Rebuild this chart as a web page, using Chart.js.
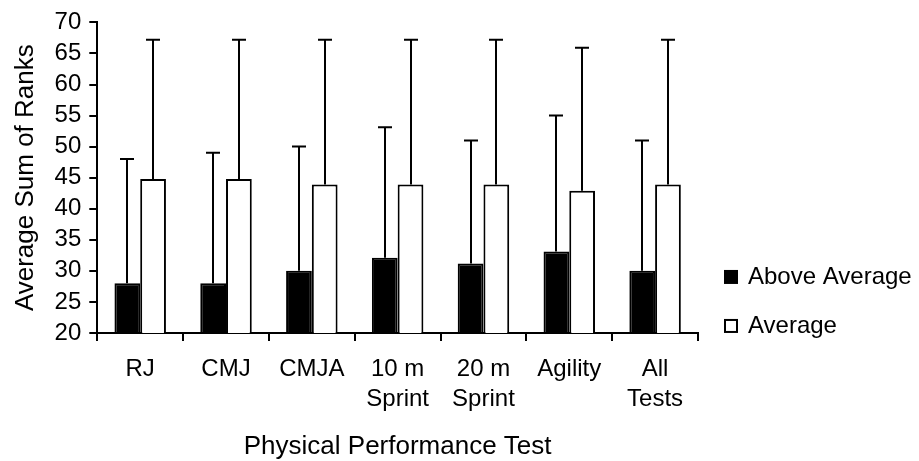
<!DOCTYPE html>
<html lang="en">
<head>
<meta charset="UTF-8">
<title>Average Sum of Ranks</title>
<script src="https://cdn.jsdelivr.net/npm/chart.js@4.4.0/dist/chart.umd.min.js"></script>
<style>
  html, body { margin: 0; padding: 0; background: #fff; }
  #wrap { width: 919px; height: 461px; }
</style>
</head>
<body>
<div id="wrap"><canvas id="chart"></canvas></div>
<script>
// data
const labels = [["RJ"], ["CMJ"], ["CMJA"], ["10 m", "Sprint"], ["20 m", "Sprint"], ["Agility"], ["All", "Tests"]];
const aboveAvg    = [28, 28, 30, 32.1, 31.2, 33.1, 30];
const aboveAvgTop = [48, 49, 50, 53.1, 51, 55, 51];
const average     = [44.8, 44.8, 43.9, 43.9, 43.9, 42.9, 43.9];
const averageTop  = [67.2, 67.2, 67.2, 67.2, 67.2, 65.9, 67.2];
const seriesNames = ["Above Average", "Average"];
const yMin = 20, yMax = 70, yStep = 5;

const FONT = "'Liberation Sans', Arial, sans-serif";
Chart.defaults.font.family = FONT;
Chart.defaults.color = "#000";

// upper error bars with caps
const errorBars = {
  id: "errorBars",
  afterDatasetsDraw(chart) {
    const ctx = chart.ctx;
    const y = chart.scales.y;
    ctx.save();
    ctx.strokeStyle = "#000";
    ctx.lineWidth = 2;
    chart.data.datasets.forEach((ds, i) => {
      const meta = chart.getDatasetMeta(i);
      meta.data.forEach((bar, j) => {
        const top = y.getPixelForValue(ds.errTop[j]);
        const x = Math.round(bar.x);
        ctx.beginPath();
        ctx.moveTo(x, bar.y);
        ctx.lineTo(x, top);
        ctx.moveTo(x - 7, top);
        ctx.lineTo(x + 7, top);
        ctx.stroke();
      });
    });
    ctx.restore();
  }
};

// legend drawn to the right of the plot
const sideLegend = {
  id: "sideLegend",
  afterDraw(chart) {
    const ctx = chart.ctx;
    const a = chart.chartArea;
    const x0 = a.right + 27;
    const ys = [a.bottom - 56, a.bottom - 7];
    ctx.save();
    ctx.font = "24px " + FONT;
    ctx.textBaseline = "middle";
    chart.data.datasets.forEach((ds, i) => {
      ctx.fillStyle = ds.backgroundColor;
      ctx.fillRect(x0, ys[i] - 6, 12, 12);
      ctx.strokeStyle = "#000";
      ctx.lineWidth = 2;
      ctx.strokeRect(x0, ys[i] - 6, 12, 12);
      ctx.fillStyle = "#000";
      ctx.fillText(ds.label, x0 + 23, ys[i]);
    });
    ctx.restore();
  }
};

new Chart(document.getElementById("chart"), {
  type: "bar",
  data: {
    labels: labels,
    datasets: [
      { label: seriesNames[0], data: aboveAvg, errTop: aboveAvgTop,
        backgroundColor: "#000", borderColor: "#000", borderWidth: 2 },
      { label: seriesNames[1], data: average, errTop: averageTop,
        backgroundColor: "#fff", borderColor: "#000", borderWidth: 2 }
    ]
  },
  options: {
    responsive: true,
    maintainAspectRatio: false,
    animation: false,
    events: [],
    layout: { padding: { left: 12, right: 221, top: 10, bottom: 1 } },
    datasets: { bar: { categoryPercentage: 0.6, barPercentage: 1.0 } },
    plugins: { legend: { display: false }, tooltip: { enabled: false } },
    scales: {
      x: {
        grid: { offset: true, drawOnChartArea: false, color: "#000", lineWidth: 2, tickLength: 8 },
        border: { color: "#000", width: 2 },
        ticks: { font: { size: 24, lineHeight: 1.23 }, padding: 14, maxRotation: 0, autoSkip: false },
        title: { display: true, text: "Physical Performance Test", font: { size: 26, lineHeight: 1.0 }, padding: { top: 6, bottom: 0 } }
      },
      y: {
        min: yMin, max: yMax,
        grid: { drawOnChartArea: false, color: "#000", lineWidth: 2, tickLength: 8 },
        border: { color: "#000", width: 2 },
        ticks: { stepSize: yStep, autoSkip: false, font: { size: 24 }, padding: 8 },
        title: { display: true, text: "Average Sum of Ranks", font: { size: 26, lineHeight: 1.1 }, padding: { top: 0, bottom: 6 } }
      }
    }
  },
  plugins: [errorBars, sideLegend]
});
</script>
</body>
</html>
